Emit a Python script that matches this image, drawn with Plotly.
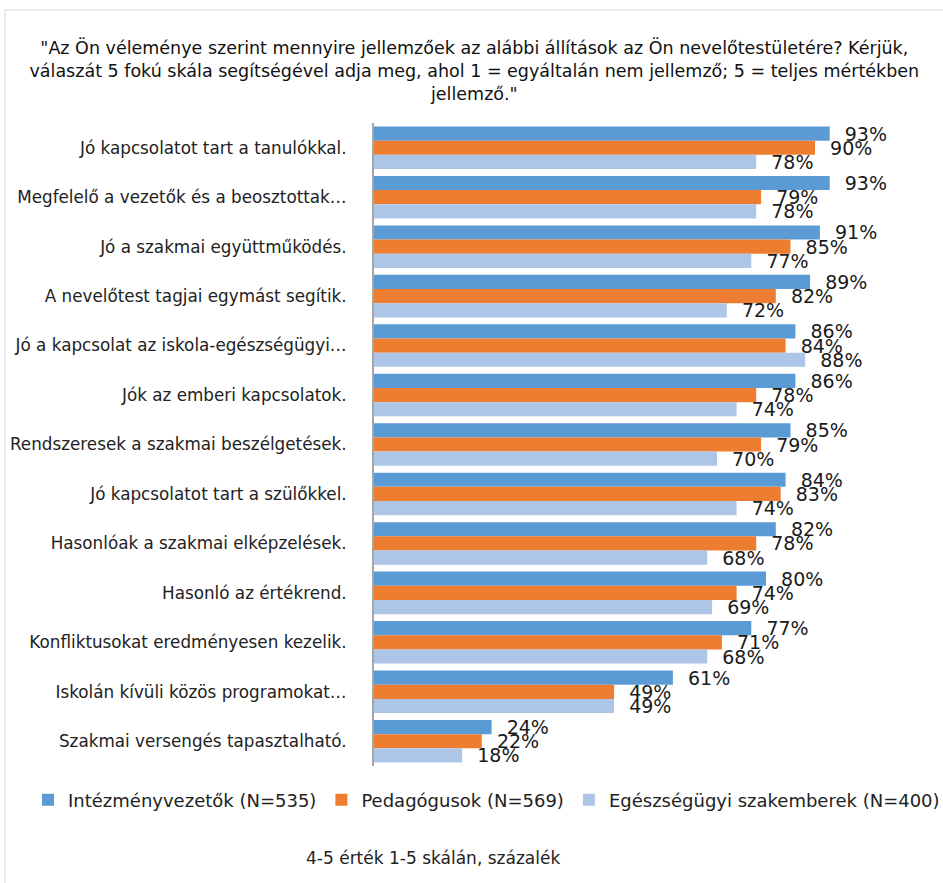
import plotly.graph_objects as go

categories = [
    "Jó kapcsolatot tart a tanulókkal.",
    "Megfelelő a vezetők és a beosztottak…",
    "Jó a szakmai együttműködés.",
    "A nevelőtest tagjai egymást segítik.",
    "Jó a kapcsolat az iskola-egészségügyi…",
    "Jók az emberi kapcsolatok.",
    "Rendszeresek a szakmai beszélgetések.",
    "Jó kapcsolatot tart a szülőkkel.",
    "Hasonlóak a szakmai elképzelések.",
    "Hasonló az értékrend.",
    "Konfliktusokat eredményesen kezelik.",
    "Iskolán kívüli közös programokat…",
    "Szakmai versengés tapasztalható.",
]
series_names = [
    "Intézményvezetők (N=535)",
    "Pedagógusok (N=569)",
    "Egészségügyi szakemberek (N=400)",
]
intezmenyvezetok = [93, 93, 91, 89, 86, 86, 85, 84, 82, 80, 77, 61, 24]
pedagogusok = [90, 79, 85, 82, 84, 78, 79, 83, 78, 74, 71, 49, 22]
egeszsegugyi = [78, 78, 77, 72, 88, 74, 70, 74, 68, 69, 68, 49, 18]
colors = ["#5B9BD5", "#ED7D31", "#ADC6E7"]

title_text = ('"Az Ön véleménye szerint mennyire jellemzőek az alábbi állítások az Ön nevelőtestületére? Kérjük,<br>'
              'válaszát 5 fokú skála segítségével adja meg, ahol 1 = egyáltalán nem jellemző; 5 = teljes mértékben<br>'
              'jellemző."')
caption = "4-5 érték 1-5 skálán, százalék"

W, H = 943, 883
L, R, T, B = 374, 10, 123, 117
PW, PH = W - L - R, H - T - B


def px(x):
    return (x - L) / PW


def py(y):
    return (H - B - y) / PH


FONT = "DejaVu Sans"
fig = go.Figure()
for name, vals, col in zip(series_names, [intezmenyvezetok, pedagogusok, egeszsegugyi], colors):
    fig.add_trace(go.Bar(
        y=categories, x=vals, name=name, orientation="h",
        marker=dict(color=col, line=dict(width=0)),
        text=[f"\u00a0\u00a0{v}%" for v in vals],
        textposition="outside", constraintext="none", cliponaxis=False,
        textfont=dict(family=FONT, size=19, color="#1a1a1a"),
    ))

fig.update_layout(
    width=W, height=H,
    margin=dict(l=L, r=R, t=T, b=B, autoexpand=False),
    paper_bgcolor="white", plot_bgcolor="white",
    barmode="group", bargap=0.14, bargroupgap=0,
    font=dict(family=FONT, color="#222"),
    title=dict(text=title_text, x=0.503, xref="container", xanchor="center",
               y=1 - 54 / H, yref="container", yanchor="top",
               font=dict(family=FONT, size=17.5, color="#111")),
    xaxis=dict(range=[0, PW / 4.9], visible=False, fixedrange=True),
    yaxis=dict(autorange="reversed", showline=True, linecolor="#A6A6A6", linewidth=2,
               ticks="", showgrid=False, ticklabelstandoff=22,
               tickfont=dict(family=FONT, size=16.8, color="#222")),
    legend=dict(orientation="h", xref="paper", yref="paper",
                x=px(28), y=py(800), xanchor="left", yanchor="middle",
                font=dict(family=FONT, size=18, color="#222"), traceorder="normal",
                itemwidth=30, tracegroupgap=0),
    annotations=[dict(text=caption, xref="paper", yref="paper",
                      x=px(433), y=py(858),
                      xanchor="center", yanchor="middle", showarrow=False,
                      font=dict(family=FONT, size=17, color="#222"))],
    shapes=[dict(type="rect", xref="paper", yref="paper",
                 x0=px(5), x1=px(W + 20), y0=py(H + 20), y1=py(10),
                 line=dict(color="#D9D9D9", width=1), layer="below")],
)
fig.write_html("out.html")
